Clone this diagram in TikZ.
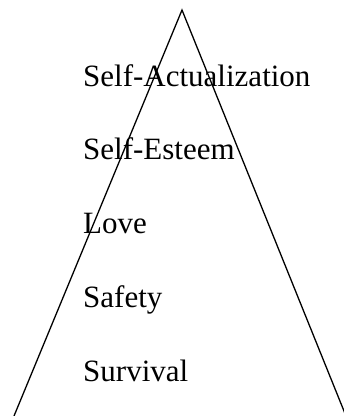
\documentclass[tikz,border=0pt]{standalone}
\usepackage{fontspec}
\setmainfont{Liberation Serif}
\begin{document}
\begin{tikzpicture}[x=1pt,y=-1pt]

      \useasboundingbox (0,0) rectangle (344,416);

      \coordinate (apex) at (182,10);
      \coordinate (bl)   at (14,416);
      \coordinate (br)   at (346,416);

      \begin{scope}[every node/.style={anchor=base west,inner sep=0pt,font=\fontsize{31}{37}\selectfont}]
        \node (1) at (83,86)  {Self-Actualization};
        \node (2) at (83,159) {Self-Esteem};
        \node (3) at (83,233) {Love};
        \node (4) at (83,307) {Safety};
        \node (5) at (83,381) {Survival};
      \end{scope}

      \draw[line width=1.3pt] (bl) -- (apex) -- (br);

    \end{tikzpicture}
\end{document}
